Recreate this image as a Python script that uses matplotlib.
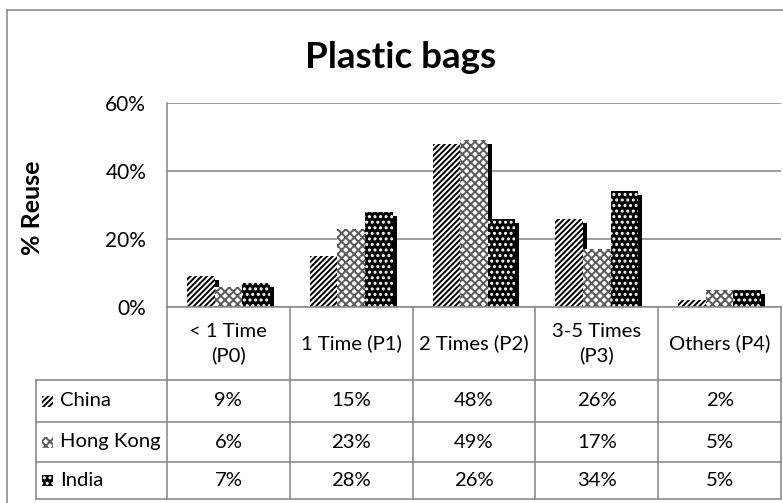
import matplotlib
matplotlib.use("Agg")
import matplotlib.pyplot as plt
import matplotlib.transforms as mtransforms
from matplotlib.patches import Rectangle
from matplotlib.lines import Line2D

# Data
categories = ["< 1 Time\n(P0)", "1 Time (P1)", "2 Times (P2)", "3-5 Times\n(P3)", "Others (P4)"]
series_names = ["China", "Hong Kong", "India"]
china = [9, 15, 48, 26, 2]
hong_kong = [6, 23, 49, 17, 5]
india = [7, 28, 26, 34, 5]
y_ticks = [0, 20, 40, 60]

series_values = [china, hong_kong, india]

plt.rcParams["font.family"] = ["Lato", "DejaVu Sans"]
plt.rcParams["hatch.linewidth"] = 1.4

W, H = 783, 503
fig = plt.figure(figsize=(W / 100, H / 100), dpi=100)


def fx(px):
    return px / W


def fy(py):
    return 1 - py / H


# Pixel geometry of the plot area and the data table
left, right, top, base = 167, 781, 103, 307
row_lines = [380, 422, 462, 499]
label_left = 36
fs = 14.6

ax = fig.add_axes([fx(left), fy(base), fx(right) - fx(left), fy(top) - fy(base)])

styles = [
    dict(facecolor="white", edgecolor="black", hatch="//////"),
    dict(facecolor="white", edgecolor="#5a5a5a", hatch="xxxx"),
    dict(facecolor="black", edgecolor="white", hatch="..."),
]

n = len(categories)
xs = list(range(n))
bw = 0.225
offsets = [-bw, 0, bw]
shadow = mtransforms.offset_copy(ax.transData, fig=fig, x=4, y=-4, units="dots")

for vals, off in zip(series_values, offsets):
    ax.bar([x + off for x in xs], vals, width=bw, color="black", linewidth=0,
           transform=shadow, zorder=1)
for vals, off, st in zip(series_values, offsets, styles):
    ax.bar([x + off for x in xs], vals, width=bw, linewidth=0, zorder=2, **st)

ax.set_xlim(-0.5, n - 0.5)
ax.set_ylim(0, 60)
ax.set_yticks(y_ticks)
ax.set_yticklabels([f"{t}%" for t in y_ticks], fontsize=fs + 0.4)
ax.set_xticks([])
ax.tick_params(axis="y", length=0, pad=15)
ax.yaxis.grid(True, color="#8c8c8c", linewidth=1.2)
ax.set_axisbelow(True)
for s in ["top", "right", "bottom"]:
    ax.spines[s].set_visible(False)
ax.spines["left"].set_color("#8c8c8c")
ax.spines["left"].set_linewidth(1.2)

# Title and axis label
fig.text(fx(401), fy(57), "Plastic bags", fontsize=26.5, fontweight="bold",
         ha="center", va="center")
fig.text(fx(33), fy(208), "% Reuse", fontsize=18, fontweight="bold",
         rotation=90, ha="center", va="center")

# Data table
grid_kw = dict(color="#8c8c8c", linewidth=1.2, transform=fig.transFigure)
col_w = (right - left) / n
col_edges = [left + i * col_w for i in range(n + 1)]

fig.add_artist(Line2D([fx(left), fx(right)], [fy(base), fy(base)], **grid_kw))
for yl in row_lines:
    fig.add_artist(Line2D([fx(label_left), fx(right)], [fy(yl), fy(yl)], **grid_kw))
for xe in col_edges:
    fig.add_artist(Line2D([fx(xe), fx(xe)], [fy(base), fy(row_lines[-1])], **grid_kw))
fig.add_artist(Line2D([fx(label_left), fx(label_left)], [fy(row_lines[0]), fy(row_lines[-1])], **grid_kw))

for i, cat in enumerate(categories):
    cx = (col_edges[i] + col_edges[i + 1]) / 2
    fig.text(fx(cx), fy((base + row_lines[0]) / 2), cat, fontsize=fs,
             ha="center", va="center", linespacing=1.45)

key = 11
for r, (name, vals, st) in enumerate(zip(series_names, series_values, styles)):
    cy = (row_lines[r] + row_lines[r + 1]) / 2
    fig.add_artist(Rectangle((fx(42), fy(cy + key / 2)), key / W, key / H,
                             transform=fig.transFigure, linewidth=0, **st))
    fig.text(fx(60), fy(cy), name, fontsize=fs, ha="left", va="center")
    for i, v in enumerate(vals):
        cx = (col_edges[i] + col_edges[i + 1]) / 2
        fig.text(fx(cx), fy(cy), f"{v}%", fontsize=fs, ha="center", va="center")

# Chart border
border_kw = dict(color="#8c8c8c", linewidth=1.2, transform=fig.transFigure)
fig.add_artist(Line2D([fx(7), fx(783)], [fy(10), fy(10)], **border_kw))
fig.add_artist(Line2D([fx(7), fx(7)], [fy(10), fy(503)], **border_kw))

fig.savefig("out.png", dpi=100)
